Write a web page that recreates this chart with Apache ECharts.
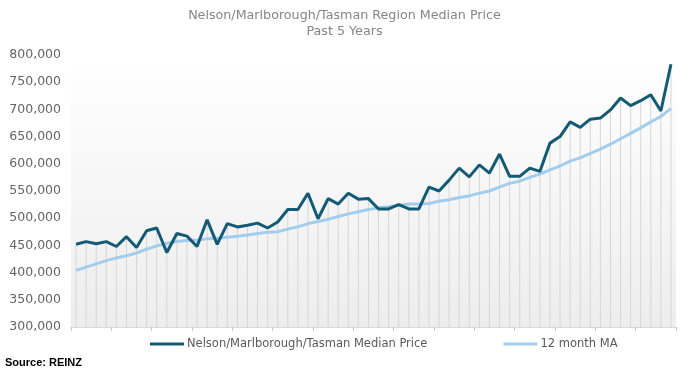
<!DOCTYPE html>
<html>
<head>
<meta charset="utf-8">
<script src="https://cdn.jsdelivr.net/npm/echarts@6/dist/echarts.min.js"></script>
<style>
html,body{margin:0;padding:0;background:#fff;}
#chart{width:689px;height:371px;}
</style>
</head>
<body>
<div id="chart"></div>
<script>
// Monthly data, past 5 years (60 months), values in NZD
var months = [];
for (var m = 1; m <= 60; m++) { months.push('M' + m); }

var medianPrice = [
  452000, 457000, 453000, 457000, 448000, 466000, 446000, 477000, 482000, 437000,
  472000, 467000, 448000, 497000, 452000, 490000, 484000, 487000, 491000, 482000,
  493000, 516000, 516000, 546000, 499000, 536000, 526000, 546000, 535000, 536000,
  517000, 517000, 525000, 517000, 517000, 557000, 550000, 570000, 592000, 576000,
  598000, 583000, 618000, 577000, 577000, 592000, 586000, 638000, 650000, 677000,
  667000, 682000, 684000, 699000, 721000, 707000, 716000, 727000, 697000, 783000
];

var movingAvg12 = [
  404000, 410000, 416000, 422000, 427000, 431000, 436000, 443000, 449000, 454000,
  457000, 459000, 460000, 462000, 463000, 465000, 467000, 469000, 472000, 474000,
  475000, 480000, 484000, 490000, 494000, 498000, 503000, 508000, 512000, 516000,
  519000, 521000, 524000, 526000, 526000, 527000, 531000, 534000, 538000, 541000,
  546000, 550000, 557000, 564000, 568000, 575000, 581000, 589000, 596000, 605000,
  611000, 619000, 627000, 636000, 646000, 656000, 666000, 677000, 687000, 702000
];

var yTicks = [300000, 350000, 400000, 450000, 500000, 550000, 600000, 650000, 700000, 750000, 800000];

var seriesNames = ['Nelson/Marlborough/Tasman Median Price', '12 month MA'];

// drop lines reach the higher of the two series
var dropLines = medianPrice.map(function (v, i) { return Math.max(v, movingAvg12[i]); });

var chart = echarts.init(document.getElementById('chart'), null, { renderer: 'canvas' });
chart.setOption({
  animation: false,
  title: {
    text: 'Nelson/Marlborough/Tasman Region Median Price\nPast 5 Years',
    left: 'center',
    top: 3,
    textStyle: {
      fontFamily: 'DejaVu Sans',
      fontSize: 12.7,
      fontWeight: 'normal',
      color: '#858585',
      lineHeight: 16
    }
  },
  legend: {
    data: seriesNames,
    left: 150,
    top: 338,
    padding: 0,
    icon: 'rect',
    itemWidth: 34,
    itemHeight: 3,
    itemGap: 76,
    textStyle: { fontFamily: 'DejaVu Sans', fontSize: 11.5, color: '#595959', padding: [0, 0, 0, -2] }
  },
  graphic: [{
    type: 'text',
    left: 5,
    top: 357,
    style: { text: 'Source: REINZ', font: 'bold 11px "Liberation Sans"', fill: '#000' }
  }],
  grid: {
    left: 71,
    right: 13,
    top: 55,
    bottom: 44,
    show: true,
    borderWidth: 0,
    backgroundColor: new echarts.graphic.LinearGradient(0, 0, 0, 1, [
      { offset: 0, color: '#ffffff' },
      { offset: 1, color: '#ededed' }
    ])
  },
  xAxis: {
    type: 'category',
    data: months,
    boundaryGap: true,
    axisLine: { show: true, lineStyle: { color: '#d9d9d9', width: 1 } },
    axisTick: { show: true, length: 4, lineStyle: { color: '#c8c8c8' } },
    axisLabel: { show: false },
    splitLine: { show: false }
  },
  yAxis: {
    type: 'value',
    min: yTicks[0],
    max: yTicks[yTicks.length - 1],
    interval: yTicks[1] - yTicks[0],
    axisLine: { show: false },
    axisTick: { show: false },
    splitLine: { show: false },
    axisLabel: {
      margin: 10,
      fontFamily: 'DejaVu Sans',
      fontSize: 12.5,
      color: '#646464',
      formatter: function (v) { return v.toLocaleString('en-US'); }
    }
  },
  series: [
    {
      name: 'drop',
      type: 'bar',
      data: dropLines,
      barWidth: 1,
      clip: true,
      silent: true,
      itemStyle: { color: '#d6d6d6' },
      z: 1
    },
    {
      name: seriesNames[1],
      type: 'line',
      data: movingAvg12,
      symbol: 'none',
      lineStyle: { color: '#a3cdec', width: 3 },
      itemStyle: { color: '#a3cdec' },
      z: 2
    },
    {
      name: seriesNames[0],
      type: 'line',
      data: medianPrice,
      symbol: 'none',
      lineStyle: { color: '#135a74', width: 3 },
      itemStyle: { color: '#135a74' },
      z: 3
    }
  ]
});
</script>
</body>
</html>
